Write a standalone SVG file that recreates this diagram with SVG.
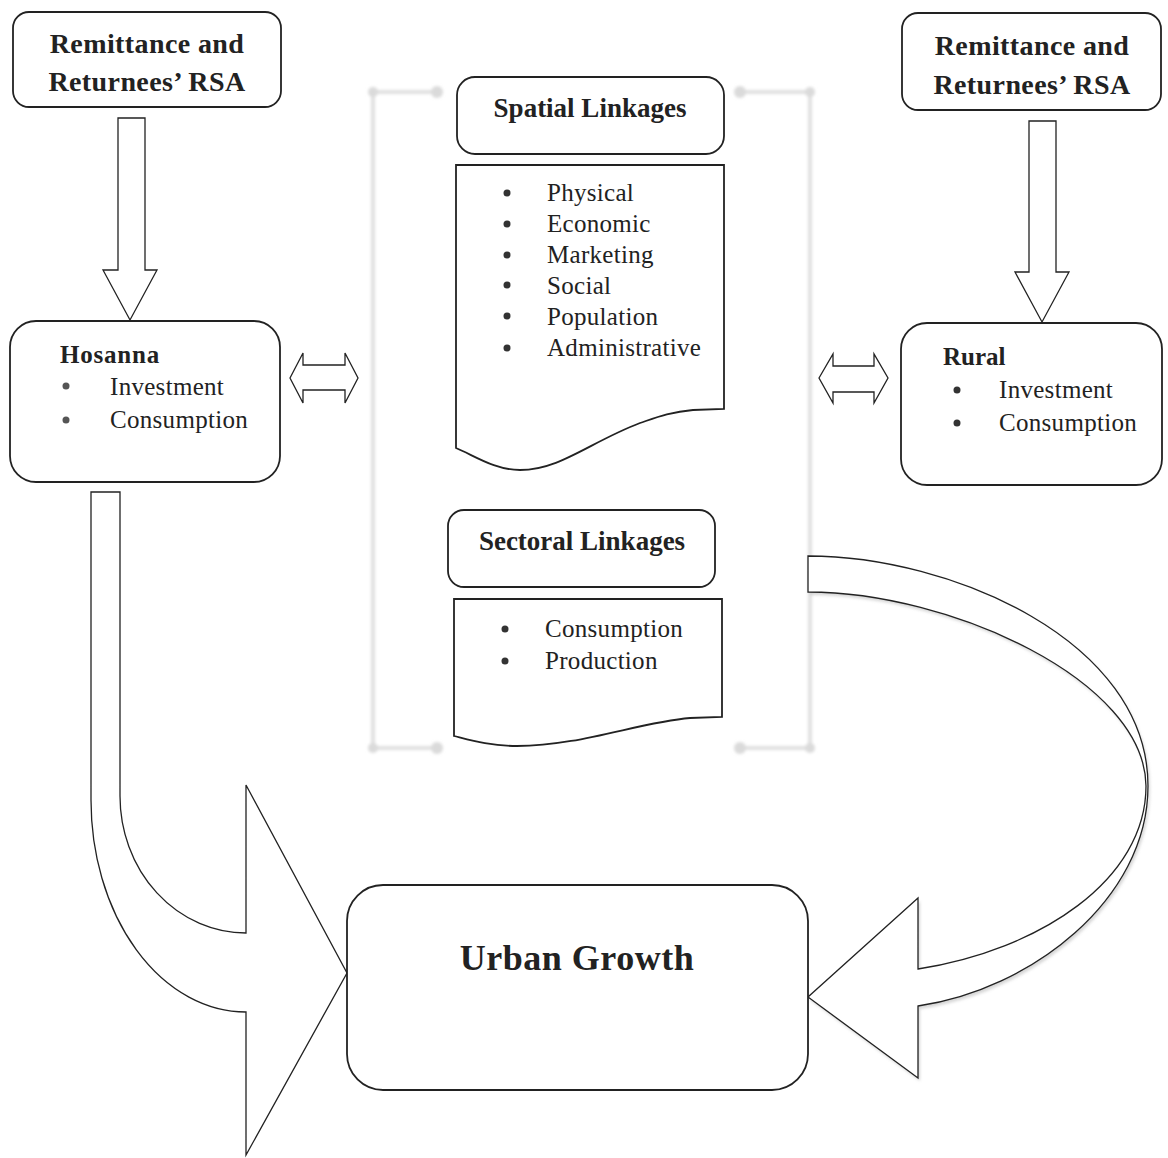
<svg xmlns="http://www.w3.org/2000/svg" width="1168" height="1158" viewBox="0 0 1168 1158">
<defs>
<style>
.box{fill:#fff;stroke:#222;stroke-width:1.8}
.arr{fill:#fff;stroke:#222;stroke-width:1.3;stroke-linejoin:miter}
.t{font-family:"Liberation Serif","Times New Roman",serif;fill:#222}
.b{font-weight:bold}
.h{font-size:28px;text-anchor:middle;font-weight:bold;letter-spacing:0.4px}
.l{font-size:27px;text-anchor:middle;font-weight:bold}
.i{font-size:25px;letter-spacing:0.3px}
.dot{fill:#333}
.br{stroke:#e0e0e0;stroke-width:4;fill:none}
.bd{fill:#dadada}
</style>
<filter id="blur" x="-10%" y="-10%" width="120%" height="120%"><feGaussianBlur stdDeviation="1.8"/></filter>
<filter id="sh" x="-10%" y="-10%" width="130%" height="130%"><feGaussianBlur stdDeviation="1.5"/></filter>
</defs>
<rect width="1168" height="1158" fill="#fff"/>

<g id="bracket" filter="url(#blur)">
<path class="br" d="M373,92 L373,748 M373,92 L437,92 M373,748 L437,748 M810,92 L810,748 M740,92 L810,92 M740,748 L810,748"/>
<circle class="bd" cx="373" cy="92" r="5"/><circle class="bd" cx="437" cy="92" r="6"/>
<circle class="bd" cx="373" cy="748" r="5"/><circle class="bd" cx="437" cy="748" r="6"/>
<circle class="bd" cx="740" cy="92" r="6"/><circle class="bd" cx="810" cy="92" r="5"/>
<circle class="bd" cx="740" cy="748" r="6"/><circle class="bd" cx="810" cy="748" r="5"/>
</g>

<g id="connectors">
<path class="arr" d="M118,118 L145,118 L145,270 L157,270 L130,320 L103,270 L118,270 Z"/>
<path class="arr" d="M1029,121 L1056,121 L1056,272 L1069,272 L1042,322 L1015,272 L1029,272 Z"/>
<path class="arr" d="M290,378 L303,353 L303,365 L345,365 L345,353 L358,378 L345,403 L345,390 L303,390 L303,403 Z"/>
<path class="arr" d="M819,378 L833,354 L833,366 L874,366 L874,354 L888,378 L874,403 L874,392 L833,392 L833,403 Z"/>
<path class="arr" d="M91,492 L120,492 L120,796 A126 137 0 0 0 246,933 L246,785 L347,973 L246,1155 L246,1012 A155 212 0 0 1 91,800 Z"/>
<g id="curved-right">
<path d="M810,559 C952,559 1150,643 1150,789 C1150,903 1032,993 920,1009 L920,1081 L810,1000 L920,901 L920,972 C1042,953 1148,883 1148,789 C1147,683 952,595 810,595 Z" fill="#bbb" filter="url(#sh)" opacity="0.6"/>
<path class="arr" d="M808,556 C950,556 1148,640 1148,786 C1148,900 1030,990 918,1006 L918,1078 L808,997 L918,898 L918,969 C1040,950 1146,880 1146,786 C1145,680 950,592 808,592 Z"/>
</g>
</g>

<g id="remit-left">
<rect class="box" x="13" y="12" width="268" height="95" rx="16"/>
<text class="t h" x="147" y="53">Remittance and</text>
<text class="t h" x="147" y="91">Returnees’ RSA</text>
</g>

<g id="remit-right">
<rect class="box" x="902" y="13" width="259" height="97" rx="16"/>
<text class="t h" x="1032" y="55">Remittance and</text>
<text class="t h" x="1032" y="94">Returnees’ RSA</text>
</g>

<g id="hosanna">
<rect class="box" x="10" y="321" width="270" height="161" rx="26"/>
<text class="t b" x="60" y="363" font-size="25" letter-spacing="0.8">Hosanna</text>
<circle cx="66" cy="386" r="3.5" fill="#555"/>
<circle cx="66" cy="420" r="3.5" fill="#555"/>
<text class="t i" x="110" y="395">Investment</text>
<text class="t i" x="110" y="428">Consumption</text>
</g>

<g id="rural">
<rect class="box" x="901" y="323" width="261" height="162" rx="26"/>
<text class="t b" x="943" y="365" font-size="25">Rural</text>
<circle class="dot" cx="957" cy="390" r="3.5"/>
<circle class="dot" cx="957" cy="423" r="3.5"/>
<text class="t i" x="999" y="398">Investment</text>
<text class="t i" x="999" y="431">Consumption</text>
</g>

<g id="spatial-title">
<rect class="box" x="457" y="77" width="267" height="77" rx="18"/>
<text class="t l" x="590" y="117">Spatial Linkages</text>
</g>

<g id="spatial-list">
<path class="box" d="M456,165 L724,165 L724,409 L693,410 C670,412 655,418 640,423 C590,442 560,470 520,470 C495,470 475,456 456,448 Z"/>
<circle class="dot" cx="507" cy="193" r="3.5"/>
<circle class="dot" cx="507" cy="224" r="3.5"/>
<circle class="dot" cx="507" cy="255" r="3.5"/>
<circle class="dot" cx="507" cy="285" r="3.5"/>
<circle class="dot" cx="507" cy="316" r="3.5"/>
<circle class="dot" cx="507" cy="348" r="3.5"/>
<text class="t i" x="547" y="201">Physical</text>
<text class="t i" x="547" y="232">Economic</text>
<text class="t i" x="547" y="263">Marketing</text>
<text class="t i" x="547" y="294">Social</text>
<text class="t i" x="547" y="325">Population</text>
<text class="t i" x="547" y="356" letter-spacing="0">Administrative</text>
</g>

<g id="sectoral-title">
<rect class="box" x="448" y="510" width="267" height="77" rx="16"/>
<text class="t l" x="582" y="550">Sectoral Linkages</text>
</g>

<g id="sectoral-list">
<path class="box" d="M454,599 L722,599 L722,717 L690,718 C640,722 580,746 517,746 C490,746 470,740 454,736 Z"/>
<circle class="dot" cx="505" cy="629" r="3.5"/>
<circle class="dot" cx="505" cy="661" r="3.5"/>
<text class="t i" x="545" y="637">Consumption</text>
<text class="t i" x="545" y="669">Production</text>
</g>

<g id="urban-growth">
<rect class="box" x="347" y="885" width="461" height="205" rx="36"/>
<text class="t b" x="577" y="970" font-size="36" text-anchor="middle" letter-spacing="0.5">Urban Growth</text>
</g>
</svg>
